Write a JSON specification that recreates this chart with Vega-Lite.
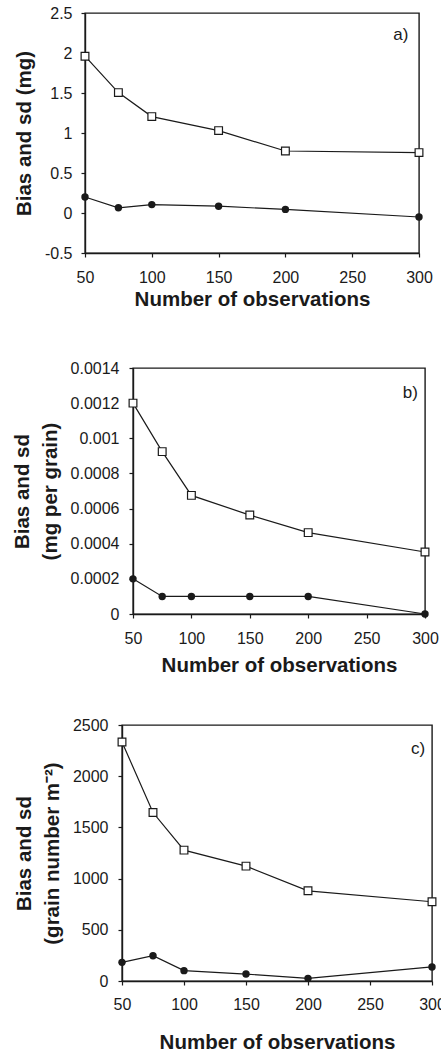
{
  "$schema": "https://vega.github.io/schema/vega-lite/v6.json",
  "padding": {"left": 0, "top": 4, "right": 0, "bottom": 0},
  "background": "white",
  "config": {
    "font": "Liberation Sans",
    "view": {"stroke": "#1a1a1a", "strokeWidth": 1.4},
    "axis": {
      "grid": false,
      "labelFont": "Liberation Sans",
      "labelFontSize": 16,
      "labelColor": "#1a1a1a",
      "titleFont": "Liberation Sans",
      "titleFontSize": 20.5,
      "titleFontWeight": "bold",
      "titleColor": "#1a1a1a",
      "domainColor": "#1a1a1a",
      "domainWidth": 1.4,
      "tickColor": "#1a1a1a",
      "tickWidth": 1.2,
      "tickSize": 4,
      "labelFlush": false,
      "labelOverlap": false
    },
    "axisY": {"labelPadding": 9, "titlePadding": 10, "titleLineHeight": 28},
    "text": {"font": "Liberation Sans", "fontSize": 17, "color": "#1a1a1a"}
  },
  "datasets": {
    "a": [
      {"n": 50, "series": "sd", "value": 1.96},
      {"n": 75, "series": "sd", "value": 1.505},
      {"n": 100, "series": "sd", "value": 1.205},
      {"n": 150, "series": "sd", "value": 1.03},
      {"n": 200, "series": "sd", "value": 0.775},
      {"n": 300, "series": "sd", "value": 0.755},
      {"n": 50, "series": "bias", "value": 0.2},
      {"n": 75, "series": "bias", "value": 0.065},
      {"n": 100, "series": "bias", "value": 0.105},
      {"n": 150, "series": "bias", "value": 0.085},
      {"n": 200, "series": "bias", "value": 0.045},
      {"n": 300, "series": "bias", "value": -0.05}
    ],
    "b": [
      {"n": 50, "series": "sd", "value": 0.0012},
      {"n": 75, "series": "sd", "value": 0.000924},
      {"n": 100, "series": "sd", "value": 0.000675},
      {"n": 150, "series": "sd", "value": 0.000563},
      {"n": 200, "series": "sd", "value": 0.000463},
      {"n": 300, "series": "sd", "value": 0.000353},
      {"n": 50, "series": "bias", "value": 0.0002},
      {"n": 75, "series": "bias", "value": 0.0001},
      {"n": 100, "series": "bias", "value": 0.0001},
      {"n": 150, "series": "bias", "value": 0.0001},
      {"n": 200, "series": "bias", "value": 0.0001},
      {"n": 300, "series": "bias", "value": 0}
    ],
    "c": [
      {"n": 50, "series": "sd", "value": 2334},
      {"n": 75, "series": "sd", "value": 1645},
      {"n": 100, "series": "sd", "value": 1278},
      {"n": 150, "series": "sd", "value": 1122},
      {"n": 200, "series": "sd", "value": 881},
      {"n": 300, "series": "sd", "value": 774},
      {"n": 50, "series": "bias", "value": 182},
      {"n": 75, "series": "bias", "value": 247},
      {"n": 100, "series": "bias", "value": 101},
      {"n": 150, "series": "bias", "value": 68},
      {"n": 200, "series": "bias", "value": 26},
      {"n": 300, "series": "bias", "value": 137}
    ],
    "empty": []
  },
  "columns": 1,
  "align": "none",
  "spacing": 39,
  "concat": [
    {
      "columns": 1,
      "align": "none",
      "spacing": 48,
      "concat": [
        {
          "spacing": 0,
          "hconcat": [
            {"width": 13, "height": 1, "data": {"name": "empty"}, "mark": {"type": "point", "opacity": 0}, "view": {"stroke": null}},
            {
              "width": 334,
              "height": 240,
              "data": {"name": "a"},
              "encoding": {
                "x": {"field": "n", "type": "quantitative", "scale": {"domain": [50, 300]},
                      "axis": {"values": [50, 100, 150, 200, 250, 300], "title": "Number of observations", "labelPadding": 12, "titlePadding": 4}},
                "y": {"field": "value", "type": "quantitative", "scale": {"domain": [-0.5, 2.5]},
                      "axis": {"values": [-0.5, 0, 0.5, 1, 1.5, 2, 2.5], "format": "~g", "labelExpr": "replace(datum.label, '\u2212', '-')", "title": "Bias and sd (mg)"}}
              },
              "layer": [
                {"mark": {"type": "line", "color": "#1a1a1a", "strokeWidth": 1.2}, "encoding": {"detail": {"field": "series"}}},
                {"transform": [{"filter": "datum.series == 'sd'"}], "mark": {"type": "point", "shape": "square", "filled": true, "fill": "white", "stroke": "#1a1a1a", "strokeWidth": 1.2, "size": 60, "opacity": 1}},
                {"transform": [{"filter": "datum.series == 'bias'"}], "mark": {"type": "point", "shape": "circle", "filled": true, "color": "#1a1a1a", "size": 55, "opacity": 1}},
                {"data": {"values": [{"label": "a)", "n": 292, "value": 2.225}]}, "mark": {"type": "text", "align": "right", "baseline": "middle"}, "encoding": {"text": {"field": "label"}}}
              ]
            }
          ]
        },
        {
          "spacing": 0,
          "hconcat": [
            {"width": 11, "height": 1, "data": {"name": "empty"}, "mark": {"type": "point", "opacity": 0}, "view": {"stroke": null}},
            {
              "width": 292,
              "height": 246,
              "data": {"name": "b"},
              "encoding": {
                "x": {"field": "n", "type": "quantitative", "scale": {"domain": [50, 300]},
                      "axis": {"values": [50, 100, 150, 200, 250, 300], "title": "Number of observations", "labelPadding": 12, "titlePadding": 9}},
                "y": {"field": "value", "type": "quantitative", "scale": {"domain": [0, 0.0014]},
                      "axis": {"values": [0, 0.0002, 0.0004, 0.0006, 0.0008, 0.001, 0.0012, 0.0014], "format": "~g", "labelPadding": 10, "title": ["Bias and sd", "(mg per grain)"]}}
              },
              "layer": [
                {"mark": {"type": "line", "color": "#1a1a1a", "strokeWidth": 1.2}, "encoding": {"detail": {"field": "series"}}},
                {"transform": [{"filter": "datum.series == 'sd'"}], "mark": {"type": "point", "shape": "square", "filled": true, "fill": "white", "stroke": "#1a1a1a", "strokeWidth": 1.2, "size": 60, "opacity": 1}},
                {"transform": [{"filter": "datum.series == 'bias'"}], "mark": {"type": "point", "shape": "circle", "filled": true, "color": "#1a1a1a", "size": 55, "opacity": 1}},
                {"data": {"values": [{"label": "b)", "n": 294, "value": 0.001258}]}, "mark": {"type": "text", "align": "right", "baseline": "middle"}, "encoding": {"text": {"field": "label"}}}
              ]
            }
          ]
        }
      ]
    },
    {
      "spacing": 0,
      "hconcat": [
        {"width": 13, "height": 1, "data": {"name": "empty"}, "mark": {"type": "point", "opacity": 0}, "view": {"stroke": null}},
        {
          "width": 310,
          "height": 256,
          "data": {"name": "c"},
          "encoding": {
            "x": {"field": "n", "type": "quantitative", "scale": {"domain": [50, 300]},
                  "axis": {"values": [50, 100, 150, 200, 250, 300], "title": "Number of observations", "labelPadding": 11, "titlePadding": 20}},
            "y": {"field": "value", "type": "quantitative", "scale": {"domain": [0, 2500]},
                  "axis": {"values": [0, 500, 1000, 1500, 2000, 2500], "format": "d", "labelPadding": 10, "title": ["Bias and sd", "(grain number m\u207b\u00b2)"]}}
          },
          "layer": [
            {"mark": {"type": "line", "color": "#1a1a1a", "strokeWidth": 1.2}, "encoding": {"detail": {"field": "series"}}},
            {"transform": [{"filter": "datum.series == 'sd'"}], "mark": {"type": "point", "shape": "square", "filled": true, "fill": "white", "stroke": "#1a1a1a", "strokeWidth": 1.2, "size": 60, "opacity": 1}},
            {"transform": [{"filter": "datum.series == 'bias'"}], "mark": {"type": "point", "shape": "circle", "filled": true, "color": "#1a1a1a", "size": 55, "opacity": 1}},
            {"data": {"values": [{"label": "c)", "n": 294.4, "value": 2266}]}, "mark": {"type": "text", "align": "right", "baseline": "middle"}, "encoding": {"text": {"field": "label"}}}
          ]
        }
      ]
    }
  ]
}
